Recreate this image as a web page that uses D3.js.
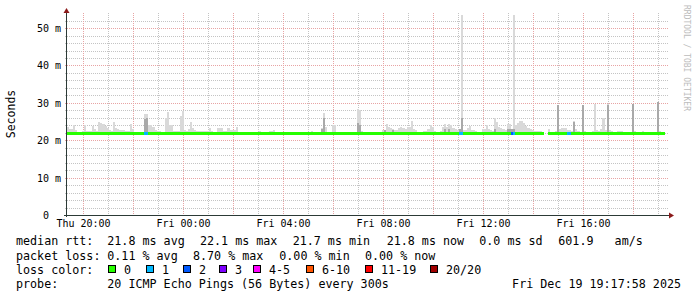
<!DOCTYPE html>
<html>
<head>
<meta charset="utf-8">
<script src="https://cdn.jsdelivr.net/npm/d3@7"></script>
<style>
  body { margin: 0; background: #fff; }
  svg { display: block; font-family: "DejaVu Sans Mono", monospace; }
  text { white-space: pre; }
</style>
</head>
<body>
<script>
// 24h of 5 minute steps, first step starts 19:21:36 Thu
const startTime = new Date(2025, 11, 18, 19, 21, 36);
const stepMinutes = 5;

// top of the smoke (slowest ping) per step, ms
const smokeTop = [
  23.5,23.1,23.1,24,22.7,22.3,22.2,22.5,24,22.5,22.6,22.6,23.8,23,22.6,25,24.5,24.3,23.7,23.2,22.7,22.6,25,23.3,
  22.9,22.8,22.8,22.8,22.6,22.4,24.4,23,22.3,22.3,22.2,22.2,22.3,27,27.1,24,24,23.5,22.7,22.5,22.4,22.3,22.3,26,
  27.5,24,24,22.4,22.5,22.6,26.5,27.8,22.8,22.6,23,24.8,23.2,22.8,22.5,22.6,22.5,22.4,22.4,22.5,23.2,22.5,22.3,22.3,
  23.4,23.3,23.2,22.5,22.5,23.2,22.8,22.8,22.7,23.5,22.2,22.2,22.2,22.2,22.2,22.2,22.2,22.2,22.2,22.2,22.6,22.2,22.2,22.2,
  22.2,22.6,22.6,22.8,22.2,22.2,22.2,22.2,22.2,22.2,22.2,22.2,22.2,22.2,22.2,22.2,22.2,22.2,22.2,22.2,22.2,22.5,22.3,22.2,
  22.2,22.2,23.4,27.3,23.5,22.3,22.3,24,24,22.2,22.2,22.2,22.2,22.2,22.2,22.2,22.2,22.2,22.2,28.4,28,22.5,22.2,22.2,
  22.2,22.2,22.2,22.2,22.2,22.2,22.2,22.7,22.8,24.3,23.5,23.2,22.9,22.8,22.7,23.3,23.5,23.4,23,23.5,23.5,25.2,23,22.7,
  22.3,22.2,22.3,22.6,22.4,23,24.1,23.5,22.5,22.3,22.3,22.4,23.5,24.3,23.6,24.3,24,23.3,23,22.8,22.8,54,22.7,22.8,
  23.2,23.7,22.8,22.8,22.5,22.2,22.2,22.9,23,24,23,22.8,22.5,26,25,23.6,23.4,23,22.8,24.4,24.4,22.9,54,24.2,
  24.5,25.1,25.1,24.5,23.8,23.2,23,22.8,22.6,22.5,22.4,22.4,22.3,null,null,22.9,22.2,22.2,22.5,29.3,23,23.3,23.3,23.3,
  22.8,22.8,22.5,25.1,23,22.5,22.3,29.5,22.6,22.2,22.2,22.2,22.4,29.8,22.8,22.6,23,25.9,22.8,29.7,22.8,22.4,22.3,22.3,
  22.5,22.6,22.5,22.2,22.2,22.2,22.2,29.8,22.4,22.2,22.2,22.2,22.5,22.2,22.2,22.2,22.2,22.2,22.2,30.2,22.6,22.3,22.2,null
];

// median rtt per step, ms
const median = [
  21.7,21.7,21.7,21.7,21.7,21.7,21.7,21.7,21.7,21.7,21.7,21.7,21.7,21.7,21.7,21.7,21.7,21.7,21.7,21.7,21.7,21.7,21.7,21.7,
  21.7,21.7,21.7,21.7,21.7,21.7,21.7,21.7,21.7,21.7,21.7,21.7,21.7,21.7,21.7,21.7,21.7,21.7,21.7,21.7,21.7,21.7,21.7,21.7,
  21.7,21.7,21.7,21.7,21.7,21.7,21.7,21.7,21.7,21.7,21.7,21.7,21.7,21.7,21.7,21.7,21.7,21.7,21.7,21.7,21.7,21.7,21.7,21.7,
  21.7,21.7,21.7,21.7,21.7,21.7,21.7,21.7,21.7,21.7,21.7,21.7,21.7,21.7,21.7,21.7,21.7,21.7,21.7,21.7,21.7,21.7,21.7,21.7,
  21.7,21.7,21.7,21.7,21.7,21.7,21.7,21.7,21.7,21.7,21.7,21.7,21.7,21.7,21.7,21.7,21.7,21.7,21.7,21.7,21.7,21.7,21.7,21.7,
  21.7,21.7,21.7,21.7,21.7,21.7,21.7,21.7,21.7,21.7,21.7,21.7,21.7,21.7,21.7,21.7,21.7,21.7,21.7,21.7,21.7,21.7,21.7,21.7,
  21.7,21.7,21.7,21.7,21.7,21.7,21.7,21.7,21.7,21.7,21.7,21.7,21.7,21.7,21.7,21.7,21.7,21.7,21.7,21.7,21.7,21.7,21.7,21.7,
  21.7,21.7,21.7,21.7,21.7,21.7,21.7,21.7,21.7,21.7,21.7,21.7,21.7,21.7,21.7,21.7,21.7,21.7,21.7,21.7,21.7,21.7,21.7,21.7,
  21.7,21.7,21.7,21.7,21.7,21.7,21.7,21.7,21.7,21.7,21.7,21.7,21.7,21.7,21.7,21.7,21.7,21.7,21.7,21.7,21.7,21.7,21.7,21.7,
  21.7,21.7,21.7,21.7,21.7,21.7,21.7,21.7,21.7,21.7,21.7,21.7,21.7,null,null,21.9,21.7,21.7,21.7,21.7,21.7,21.7,21.7,21.7,
  21.7,21.7,21.7,21.7,21.7,21.7,21.7,21.7,21.7,21.7,21.7,21.7,21.7,21.7,21.7,21.7,21.7,21.7,21.7,21.7,21.7,21.7,21.7,21.7,
  21.9,21.7,21.7,21.7,21.7,21.7,21.7,21.7,21.7,21.7,21.7,21.7,21.7,21.7,21.7,21.7,21.7,21.7,21.7,21.7,21.7,21.7,21.7,null
];

// denser part of the smoke: [step, top ms]
const darkSmoke = [
  [37,25.6],[38,26],[122,23],[123,26],[139,24.5],[140,24],[152,22.8],[156,22.8],
  [181,23],[183,23],[188,23],[189,26],[205,23],[211,23],[212,23],[213,23],[214,23],
  [235,29.3],[243,25],[247,29.5],[259,29.5],[271,29.8],[283,30.2]
];

// steps with packet loss: [step, lost pings]
const lossSteps = [[37,1],[38,1],[188,1],[189,1],[213,2],[214,1],[240,1],[241,1]];

const lossLabels = ["0", "1", "2", "3", "4-5", "6-10", "11-19", "20/20"];
const lossColors = ["#26ff00", "#00b8ff", "#0059ff", "#7e00ff", "#ff00ff", "#ff5500", "#ff0000", "#a10000"];

const rttStats = ["21.8 ms avg", "22.1 ms max", "21.7 ms min", "21.8 ms now", "0.0 ms sd", "601.9   am/s"];
const lossStats = ["0.11 % avg", "8.70 % max", "0.00 % min", "0.00 % now"];
const probeText = "20 ICMP Echo Pings (56 Bytes) every 300s";
const stampText = "Fri Dec 19 19:17:58 2025";

const w = 697, h = 297;
const padL = 67, padR = 667, padT = 15, padB = 215;

const stepTime = i => d3.timeMinute.offset(startTime, i * stepMinutes);
const endTime = stepTime(smokeTop.length);

const xScale = d3.scaleTime().domain([startTime, endTime]).range([padL, padR]);
const yScale = d3.scaleLinear().domain([0, 53.5]).range([padB, padT]).clamp(true);

const svg = d3.select("body").append("svg")
  .attr("width", w).attr("height", h);

const crisp = v => Math.round(v) + 0.5;

// grid
const grid = svg.append("g").attr("shape-rendering", "crispEdges").attr("stroke-dasharray", "1,1");

const minorY = d3.range(2, 53, 2).filter(v => v % 10 !== 0);
grid.selectAll(".gy").data(minorY).enter().append("line")
  .attr("x1", padL - 2).attr("x2", padR + 2)
  .attr("y1", d => crisp(yScale(d))).attr("y2", d => crisp(yScale(d)))
  .attr("stroke", "#c4c4c4");

const hoursMinor = d3.timeHour.every(1).range(startTime, endTime).filter(d => d.getHours() % 2 !== 0);
grid.selectAll(".gx").data(hoursMinor).enter().append("line")
  .attr("x1", d => crisp(xScale(d))).attr("x2", d => crisp(xScale(d)))
  .attr("y1", padT - 2).attr("y2", padB + 2)
  .attr("stroke", "#c4c4c4");

const majorY = [10, 20, 30, 40, 50];
grid.selectAll(".my").data(majorY).enter().append("line")
  .attr("x1", padL - 2).attr("x2", padR + 2)
  .attr("y1", d => crisp(yScale(d))).attr("y2", d => crisp(yScale(d)))
  .attr("stroke", "#e8a4a4");

const hoursMajor = d3.timeHour.every(2).range(startTime, endTime);
grid.selectAll(".mx").data(hoursMajor).enter().append("line")
  .attr("x1", d => crisp(xScale(d))).attr("x2", d => crisp(xScale(d)))
  .attr("y1", padT - 2).attr("y2", padB + 2)
  .attr("stroke", "#e8a4a4");

// smoke
const steps = smokeTop.map((v, i) => ({ i, top: v, med: median[i] }));
const plot = svg.append("g").attr("shape-rendering", "crispEdges");

plot.selectAll(".smoke").data(steps.filter(d => d.top != null && d.med != null)).enter().append("rect")
  .attr("x", d => xScale(stepTime(d.i)))
  .attr("width", d => xScale(stepTime(d.i + 1)) - xScale(stepTime(d.i)))
  .attr("y", d => yScale(d.top))
  .attr("height", d => yScale(d.med) - yScale(d.top))
  .attr("fill", "#d9d9d9");

plot.selectAll(".dark").data(darkSmoke).enter().append("rect")
  .attr("x", d => xScale(stepTime(d[0])))
  .attr("width", d => xScale(stepTime(d[0] + 1)) - xScale(stepTime(d[0])))
  .attr("y", d => yScale(d[1]))
  .attr("height", d => yScale(median[d[0]]) - yScale(d[1]))
  .attr("fill", "#a9a9a9");

// median line coloured by loss
const lossByStep = new Map(lossSteps);
function lossIndex(n) {
  if (n === 0) return 0;
  if (n <= 3) return n;
  if (n <= 5) return 4;
  if (n <= 10) return 5;
  if (n <= 19) return 6;
  return 7;
}
plot.selectAll(".med").data(steps.filter(d => d.med != null)).enter().append("rect")
  .attr("x", d => xScale(stepTime(d.i)))
  .attr("width", d => xScale(stepTime(d.i + 1)) - xScale(stepTime(d.i)))
  .attr("y", d => yScale(d.med) - 1.6)
  .attr("height", 3)
  .attr("fill", d => lossColors[lossIndex(lossByStep.get(d.i) || 0)]);

// axes
const axisColor = "#2c3a36";
svg.append("line")
  .attr("x1", padL - 0.5).attr("x2", padL - 0.5)
  .attr("y1", padT - 2).attr("y2", padB + 2)
  .attr("stroke", axisColor).attr("shape-rendering", "crispEdges");
svg.append("line")
  .attr("x1", padL - 3).attr("x2", padR + 3)
  .attr("y1", padB + 0.5).attr("y2", padB + 0.5)
  .attr("stroke", axisColor).attr("shape-rendering", "crispEdges");

svg.append("path")
  .attr("d", `M${padL - 3.5},${padT - 2}L${padL + 2.5},${padT - 2}L${padL - 0.5},${padT - 7}Z`)
  .attr("fill", "#8b1a1a");
svg.append("path")
  .attr("d", `M${padR + 2},${padB - 2.5}L${padR + 2},${padB + 3.5}L${padR + 7},${padB + 0.5}Z`)
  .attr("fill", "#8b1a1a");

// tick labels
svg.selectAll(".yl").data([0, 10, 20, 30, 40, 50]).enter().append("text")
  .attr("x", padL - 6)
  .attr("y", d => crisp(yScale(d)) + 3.5)
  .attr("text-anchor", "end")
  .attr("font-size", 10)
  .text(d => d === 0 ? " 0  " : d + " m");

const fmt = d3.timeFormat("%a %H:%M");
const labelHours = d3.timeHour.every(4).range(startTime, endTime);
svg.selectAll(".xl").data(labelHours).enter().append("text")
  .attr("x", d => crisp(xScale(d)))
  .attr("y", 227)
  .attr("text-anchor", "middle")
  .attr("font-size", 10)
  .text(d => fmt(d));

svg.append("text")
  .attr("transform", "translate(14.5,114) rotate(-90)")
  .attr("text-anchor", "middle")
  .attr("font-size", 11.5)
  .text("Seconds");

svg.append("text")
  .attr("transform", "translate(684,5) rotate(90)")
  .attr("font-size", 8)
  .attr("fill", "#bcbcbc")
  .text("RRDTOOL / TOBI OETIKER");

// legend
const fs = 11.7;
const legend = svg.append("g").attr("font-size", fs);
const line1 = 245, line2 = 259.5, line3 = 273.5, line4 = 288;

legend.append("text").attr("x", 16).attr("y", line1).text("median rtt:");
const rttX = [107.3, 200, 292.7, 386.7, 479.3, 558.3];
rttStats.forEach((s, k) => legend.append("text").attr("x", rttX[k]).attr("y", line1).text(s));

legend.append("text").attr("x", 16).attr("y", line2).text("packet loss:");
const lossX = [107.3, 193, 279.3, 365];
lossStats.forEach((s, k) => legend.append("text").attr("x", lossX[k]).attr("y", line2).text(s));

legend.append("text").attr("x", 16).attr("y", line3).text("loss color:");
const boxX = [108, 146, 183, 219, 253, 306, 365, 430];
lossLabels.forEach((s, k) => {
  legend.append("rect")
    .attr("x", boxX[k] + 0.5).attr("y", line3 - 8.5)
    .attr("width", 7).attr("height", 7)
    .attr("fill", lossColors[k]).attr("stroke", "#000")
    .attr("shape-rendering", "crispEdges");
  legend.append("text").attr("x", boxX[k] + 16).attr("y", line3).text(s);
});

legend.append("text").attr("x", 16).attr("y", line4).text("probe:");
legend.append("text").attr("x", 107.3).attr("y", line4).text(probeText);
legend.append("text").attr("x", 681).attr("y", line4).attr("text-anchor", "end").text(stampText);
</script>
</body>
</html>
